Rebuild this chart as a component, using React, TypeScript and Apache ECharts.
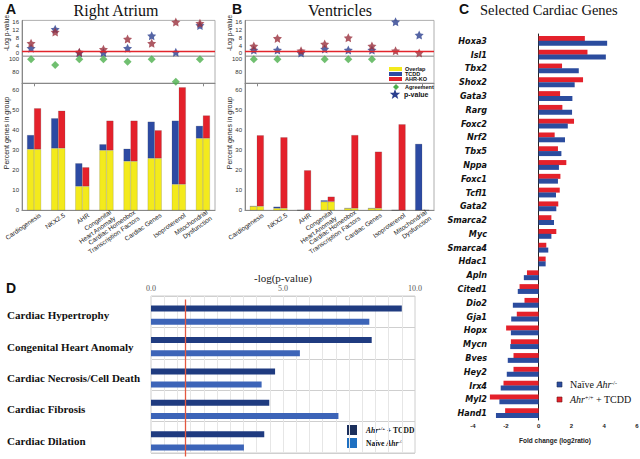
import React, { useEffect, useRef } from 'react';
import * as echarts from 'echarts';

// ---------- Panels A & B ----------
const groups = ['Cardiogenesis', 'NKX2.5', 'AHR', 'Congenital\nHeart Anomaly', 'Cardiac Homeobox\nTranscription Factors', 'Cardiac Genes', 'Isoproterenol', 'Mitochondrial\nDysfunction'];

// Right Atrium (percent genes in group)
const raOverlap = [30.5, 31, 12, 30, 24.5, 26, 13, 36];
const raTCDD = [37.6, 46, 23.5, 33, 30.8, 44.3, 44.8, 42.2];
const raKO = [51, 49.8, 21.5, 44.8, 44.8, 40, 61.5, 47.4];
const raPvalTCDD = [2.6, 12.4, 0.3, 0.4, 2.6, 9.1, 0.5, 14.4];
const raPvalKO = [5.2, 11, 0.6, 2.1, 7.4, 5.2, 16.2, 15.5];
const raAgreement = [100, 91, 100, 100, 96, 100, 64, 100];

// Ventricles
const vOverlap = [2, 1, 0, 4.3, 1, 1, 0, 0];
const vTCDD = [2, 1.8, 0, 5, 1, 1, 0, 33.2];
const vKO = [37.5, 36.5, 20, 6.8, 37.6, 29.3, 43, 0];
const vPvalTCDD = [1.7, 1.7, 0.2, 2.2, 1.7, 1.7, 16.3, 9.4];
const vPvalKO = [3.8, 7.7, 1.3, 4.8, 8, 3.8, 1.3, 0.2];
const vAgreement = [100, 100, null, 100, 100, 100, null, null];

const pTicks = [0, 4, 8, 12, 16];
const agreeTicks = [80, 100];
const pctTicks = [0, 10, 20, 30, 40, 50, 60];

// ---------- Panel C ----------
const genes = ['Hoxa3', 'Isl1', 'Tbx2', 'Shox2', 'Gata3', 'Rarg', 'Foxc2', 'Nrf2', 'Tbx5', 'Nppa', 'Foxc1', 'Tcfl1', 'Gata2', 'Smarca2', 'Myc', 'Smarca4', 'Hdac1', 'Apln', 'Cited1', 'Dio2', 'Gja1', 'Hopx', 'Mycn', 'Bves', 'Hey2', 'Irx4', 'Myl2', 'Hand1'];
const naiveFC = [4.18, 4.1, 2.45, 2.2, 2.06, 2.04, 1.78, 1.61, 1.39, 1.24, 1.18, 1.06, 1.08, 0.94, 0.78, 0.59, 0.43, -0.9, -1.27, -1.57, -1.67, -1.69, -1.73, -1.88, -1.94, -2.31, -2.39, -2.6];
const tcddFC = [2.82, 2.98, 1.43, 2.71, 1.31, 1.45, 2.16, 0.98, 1.18, 1.69, 1.33, 1.29, 1.2, 0.78, 1.08, 0.47, 0.43, -0.71, -1.16, -0.86, -1.33, -1.98, -1.69, -1.53, -1.53, -2.14, -2.97, -2.04];

// ---------- Panel D ----------
const dCategories = ['Cardiac Hypertrophy', 'Congenital Heart Anomaly', 'Cardiac Necrosis/Cell Death', 'Cardiac Fibrosis', 'Cardiac Dilation'];
const dTCDD = [9.5, 8.36, 4.7, 4.48, 4.29];
const dNaive = [8.27, 5.64, 4.19, 7.1, 3.52];
const dThreshold = 1.3;
const dTicks = [0, 5, 10];

const SANS = '"Liberation Sans", Arial, sans-serif';
const SERIF = '"Liberation Serif", "Times New Roman", serif';
const NARROW = '"Liberation Sans Narrow", "Arial Narrow", "DejaVu Sans Condensed", "Liberation Sans", sans-serif';
const STAR = 'path://M0,-10L2.94,-4.05L9.51,-3.09L4.76,1.55L5.88,8.09L0,5L-5.88,8.09L-4.76,1.55L-9.51,-3.09L-2.94,-4.05Z';

const YELLOW = '#f3ea1c';
const BLUE = '#2c4aa3';
const RED = '#e4212b';
const STAR_BLUE = '#2b3f8e';
const STAR_RED = '#9a2f3c';
const GREEN = '#4caf4c';

function starPoints(cx: number, cy: number, r: number) {
  const pts: number[][] = [];
  for (let i = 0; i < 10; i++) {
    const a = -Math.PI / 2 + (i * Math.PI) / 5;
    const rr = i % 2 === 0 ? r : r * 0.42;
    pts.push([cx + rr * Math.cos(a), cy + rr * Math.sin(a)]);
  }
  return pts;
}

function buildPanel(gi: number, left: number, width: number, overlap: number[], tcdd: number[], ko: number[], pT: number[], pK: number[], agree: (number | null)[]) {
  const frame = { show: true, borderColor: '#9a9a9a', borderWidth: 0.8, backgroundColor: 'transparent', outerBoundsMode: 'none' } as any;
  const grids = [
    { ...frame, left, top: 20.4, width, height: 35.8 },
    { ...frame, left, top: 56.2, width, height: 27.1 },
    { ...frame, left, top: 83.3, width, height: 127 },
    { left: left + 6, top: 83.3, width, height: 127, outerBoundsMode: 'none' },
  ];
  const axisLabelBase = { fontSize: 6, color: '#333', fontFamily: SANS, margin: 3 };
  const xAxes = [
    { type: 'category', gridIndex: gi, data: groups, axisLabel: { show: false }, axisTick: { show: false }, axisLine: { show: false } },
    { type: 'category', gridIndex: gi + 1, data: groups, axisLabel: { show: false }, axisTick: { show: true, alignWithLabel: true, length: 3, lineStyle: { color: '#888' } }, axisLine: { show: true, lineStyle: { color: '#888' } } },
    { type: 'category', gridIndex: gi + 2, data: groups, axisLabel: { show: false }, axisTick: { show: false }, axisLine: { show: true, lineStyle: { color: '#888' } } },
    {
      type: 'category', gridIndex: gi + 3, data: groups,
      axisLabel: { rotate: 35, interval: 0, fontSize: 6.5, color: '#222', fontFamily: SANS, margin: 4, lineHeight: 7.5 },
      axisTick: { show: false }, axisLine: { show: false },
    },
  ];
  const yAxes = [
    { type: 'value', gridIndex: gi, min: -1.5, max: 17, axisLabel: { ...axisLabelBase, customValues: pTicks }, axisTick: { customValues: pTicks, length: 2, lineStyle: { color: '#888' } }, splitLine: { show: false }, axisLine: { show: true, lineStyle: { color: '#888' } } },
    { type: 'value', gridIndex: gi + 1, min: 61.3, max: 105, axisLabel: { ...axisLabelBase, customValues: agreeTicks }, axisTick: { customValues: agreeTicks, length: 2, lineStyle: { color: '#888' } }, splitLine: { show: false }, axisLine: { show: true, lineStyle: { color: '#888' } } },
    { type: 'value', gridIndex: gi + 2, min: 0, max: 63.5, axisLabel: { ...axisLabelBase, customValues: pctTicks }, axisTick: { customValues: pctTicks, length: 2, lineStyle: { color: '#888' } }, splitLine: { show: false }, axisLine: { show: true, lineStyle: { color: '#888' } } },
    { type: 'value', gridIndex: gi + 3, min: 0, max: 63.5, show: false },
  ];
  const stackL = 'L' + gi;
  const stackR = 'R' + gi;
  const barCommon = { type: 'bar', xAxisIndex: gi + 2, yAxisIndex: gi + 2, barWidth: 7, barGap: '0%', itemStyle: { borderColor: 'rgba(70,70,70,0.45)', borderWidth: 0.4 } };
  const series: any[] = [
    { ...barCommon, name: 'Overlap', stack: stackL, data: overlap, itemStyle: { ...barCommon.itemStyle, color: YELLOW } },
    { ...barCommon, name: 'TCDD', stack: stackL, data: tcdd.map((v, i) => +(v - overlap[i]).toFixed(2)), itemStyle: { ...barCommon.itemStyle, color: BLUE } },
    { ...barCommon, name: 'Overlap', stack: stackR, data: overlap, itemStyle: { ...barCommon.itemStyle, color: YELLOW } },
    { ...barCommon, name: 'AHR-KO', stack: stackR, data: ko.map((v, i) => +(v - overlap[i]).toFixed(2)), itemStyle: { ...barCommon.itemStyle, color: RED } },
    {
      type: 'scatter', name: 'p-value', xAxisIndex: gi, yAxisIndex: gi, data: pT, symbol: STAR, symbolSize: 9, symbolOffset: [-3, 0], itemStyle: { color: STAR_BLUE },
      markLine: { silent: true, symbol: 'none', label: { show: false }, data: [{ yAxis: 1 }], lineStyle: { color: '#e2262c', width: 1.4, type: 'solid' } },
    },
    { type: 'scatter', name: 'p-value KO', xAxisIndex: gi, yAxisIndex: gi, data: pK, symbol: STAR, symbolSize: 9, symbolOffset: [-3, 0], itemStyle: { color: STAR_RED } },
    { type: 'scatter', name: 'Agreement', xAxisIndex: gi + 1, yAxisIndex: gi + 1, data: agree, symbol: 'diamond', symbolSize: 8, symbolOffset: [-3, 0], itemStyle: { color: GREEN } },
  ];
  return { grids, xAxes, yAxes, series };
}

function rotText(x: number, y: number, text: string, size: number) {
  return { type: 'text', x, y, rotation: Math.PI / 2, style: { text, fontSize: size, fontFamily: SANS, fill: '#222', align: 'center', verticalAlign: 'middle' } };
}

function label(x: number, y: number, text: string, size: number, family: string, weight = 'normal', align = 'left') {
  return { type: 'text', x, y, style: { text, fontSize: size, fontFamily: family, fontWeight: weight, fill: '#111', align, verticalAlign: 'middle' } };
}

export default function App() {
  const ref = useRef<HTMLDivElement>(null);
  useEffect(() => {
    document.body.style.margin = '0';
    if (!ref.current) return;
    const chart = echarts.init(ref.current, null, { renderer: 'svg' });

    const A = buildPanel(0, 22, 193, raOverlap, raTCDD, raKO, raPvalTCDD, raPvalKO, raAgreement);
    const B = buildPanel(4, 245, 189, vOverlap, vTCDD, vKO, vPvalTCDD, vPvalKO, vAgreement);
    const C = 8, DF = 9, DB = 10;

    const grids: any[] = [
      ...A.grids, ...B.grids,
      { left: 473, top: 34, width: 164, height: 386, outerBoundsMode: 'none' },
      { left: 151, top: 296, width: 264, height: 157, show: true, borderColor: '#cfcfcf', borderWidth: 1, outerBoundsMode: 'none' },
      { left: 151, top: 299.5, width: 264, height: 157, outerBoundsMode: 'none' },
    ];
    const xAxes: any[] = [
      ...A.xAxes, ...B.xAxes,
      {
        type: 'value', gridIndex: C, min: -4, max: 6, interval: 2,
        axisLabel: { fontSize: 6, fontWeight: 'bold', color: '#222', fontFamily: SANS, margin: 3 },
        axisLine: { onZero: false, lineStyle: { color: '#222' } }, axisTick: { length: 3, lineStyle: { color: '#222' } }, splitLine: { show: false },
        name: 'Fold change (log2ratio)', nameLocation: 'middle', nameGap: 17,
        nameTextStyle: { fontSize: 6.5, fontWeight: 'bold', color: '#222', fontFamily: SANS },
      },
      {
        type: 'value', gridIndex: DF, min: 0, max: 10, interval: 0.5, position: 'top',
        axisLabel: { customValues: dTicks, formatter: (v: number) => v.toFixed(1), fontSize: 8, color: '#555', fontFamily: SERIF, margin: 4 },
        axisLine: { show: false }, axisTick: { show: false }, splitLine: { show: true, lineStyle: { color: '#e6e6e6', width: 1 } },
        name: '-log(p-value)', nameLocation: 'middle', nameGap: 11,
        nameTextStyle: { fontSize: 11, color: '#222', fontFamily: SERIF },
      },
      { type: 'value', gridIndex: DB, min: 0, max: 10, show: false },
    ];
    const yAxes: any[] = [
      ...A.yAxes, ...B.yAxes,
      {
        type: 'category', gridIndex: C, data: genes, inverse: true,
        axisLine: { onZero: true, lineStyle: { color: '#222' } },
        axisTick: { alignWithLabel: true, length: 3, lineStyle: { color: '#222' } },
        axisLabel: { interval: 0, margin: -14, fontSize: 9, fontStyle: 'italic', fontWeight: 'bold', fontFamily: NARROW, color: '#111' },
      },
      {
        type: 'category', gridIndex: DF, data: dCategories, inverse: true,
        axisLabel: { show: false }, axisTick: { show: false }, axisLine: { show: false },
        splitLine: { show: true, lineStyle: { color: '#cfcfcf' } },
      },
      {
        type: 'category', gridIndex: DB, data: dCategories, inverse: true,
        axisLine: { show: false }, axisTick: { show: false },
        axisLabel: { interval: 0, align: 'left', margin: 144, fontSize: 11, fontWeight: 'bold', fontFamily: SERIF, color: '#111' },
      },
    ];
    const series: any[] = [
      ...A.series, ...B.series,
      { type: 'bar', name: 'Ahr+/+ + TCDD', xAxisIndex: C, yAxisIndex: C, data: tcddFC, barWidth: 5, barGap: '-4%', itemStyle: { color: RED } },
      { type: 'bar', name: 'Naïve Ahr-/-', xAxisIndex: C, yAxisIndex: C, data: naiveFC, barWidth: 5, barGap: '-4%', itemStyle: { color: '#2b4c9e' } },
      {
        type: 'bar', name: 'D Ahr+/+ + TCDD', xAxisIndex: DB, yAxisIndex: DB, data: dTCDD, barWidth: 6, barGap: '120%', itemStyle: { color: '#1f3b80' },
        markLine: { silent: true, symbol: 'none', label: { show: false }, data: [{ xAxis: dThreshold }], lineStyle: { color: '#e4573f', width: 1.3, type: 'solid' } },
      },
      { type: 'bar', name: 'D Naive Ahr-/-', xAxisIndex: DB, yAxisIndex: DB, data: dNaive, barWidth: 6, barGap: '120%', itemStyle: { color: '#3c64b8' } },
    ];

    const supRich = {
      i: { fontStyle: 'italic', fontFamily: SERIF, fontSize: 10, fill: '#111' },
      s: { fontFamily: SERIF, fontSize: 6, verticalAlign: 'top', fill: '#111' },
      n: { fontFamily: SERIF, fontSize: 10, fill: '#111' },
    } as any;
    const dRich = {
      i: { fontStyle: 'italic', fontWeight: 'bold', fontFamily: SERIF, fontSize: 7.5, fill: '#111' },
      s: { fontFamily: SERIF, fontWeight: 'bold', fontSize: 5, verticalAlign: 'top', fill: '#111' },
      n: { fontFamily: SERIF, fontWeight: 'bold', fontSize: 7.5, fill: '#111' },
    } as any;

    const graphic: any[] = [
      label(6, 9, 'A', 14, SANS, 'bold'),
      label(116, 10, 'Right Atrium', 16, SERIF, 'normal', 'center'),
      label(232, 9, 'B', 14, SANS, 'bold'),
      label(340, 10, 'Ventricles', 16, SERIF, 'normal', 'center'),
      label(459, 9, 'C', 14, SANS, 'bold'),
      label(480, 10, 'Selected Cardiac Genes', 14.5, SERIF, 'normal', 'left'),
      label(6, 288, 'D', 14, SANS, 'bold'),
      rotText(6, 33, '-Log p-value', 6.5),
      rotText(6, 133, 'Percent genes in group', 7),
      rotText(229, 33, '-Log p-value', 6.5),
      rotText(229, 133, 'Percent genes in group', 7),
      // Panel B legend
      { type: 'rect', shape: { x: 389, y: 67, width: 13, height: 4 }, style: { fill: YELLOW } },
      label(405, 69, 'Overlap', 5.5, SANS, 'bold'),
      { type: 'rect', shape: { x: 389, y: 72, width: 13, height: 4 }, style: { fill: BLUE } },
      label(405, 74, 'TCDD', 5.5, SANS, 'bold'),
      { type: 'rect', shape: { x: 389, y: 77, width: 13, height: 4 }, style: { fill: RED } },
      label(405, 79, 'AHR-KO', 5.5, SANS, 'bold'),
      { type: 'polygon', shape: { points: [[396, 84], [399, 87], [396, 90], [393, 87]] }, style: { fill: GREEN } },
      label(405, 87, 'Agreement', 5.5, SANS, 'bold'),
      { type: 'polygon', shape: { points: starPoints(395, 94.5, 5.5) }, style: { fill: STAR_BLUE } },
      label(404, 94, 'p-value', 7, SANS, 'bold'),
      // Panel C legend
      { type: 'rect', shape: { x: 557, y: 382, width: 5, height: 5 }, style: { fill: '#2b4c9e', stroke: '#1b2b55', lineWidth: 0.6 } },
      { type: 'text', x: 570, y: 384.5, style: { text: '{n|Naïve }{i|Ahr}{s|-/-}', rich: supRich, verticalAlign: 'middle' } },
      { type: 'rect', shape: { x: 557, y: 397, width: 5, height: 5 }, style: { fill: RED, stroke: '#6b1111', lineWidth: 0.6 } },
      { type: 'text', x: 570, y: 399.5, style: { text: '{i|Ahr}{s|+/+}{n| + TCDD}', rich: supRich, verticalAlign: 'middle' } },
      // Panel D legend
      { type: 'rect', shape: { x: 341, y: 421, width: 73, height: 31 }, style: { fill: '#ffffff' } },
      { type: 'rect', shape: { x: 347, y: 425, width: 10, height: 10 }, style: { fill: '#1b2f5c' } },
      { type: 'text', x: 366, y: 430, style: { text: '{i|Ahr}{s|+/+}{n| + TCDD}', rich: dRich, verticalAlign: 'middle' } },
      { type: 'rect', shape: { x: 347, y: 438, width: 10, height: 10 }, style: { fill: '#1f70c1' } },
      { type: 'text', x: 366, y: 443, style: { text: '{n|Naïve }{i|Ahr}{s|-/-}', rich: dRich, verticalAlign: 'middle' } },
    ];

    chart.setOption({
      animation: false,
      backgroundColor: '#ffffff',
      textStyle: { fontFamily: SANS },
      grid: grids,
      xAxis: xAxes,
      yAxis: yAxes,
      series,
      graphic,
    });
    return () => chart.dispose();
  }, []);
  return <div ref={ref} style={{ width: 640, height: 459 }} />;
}
